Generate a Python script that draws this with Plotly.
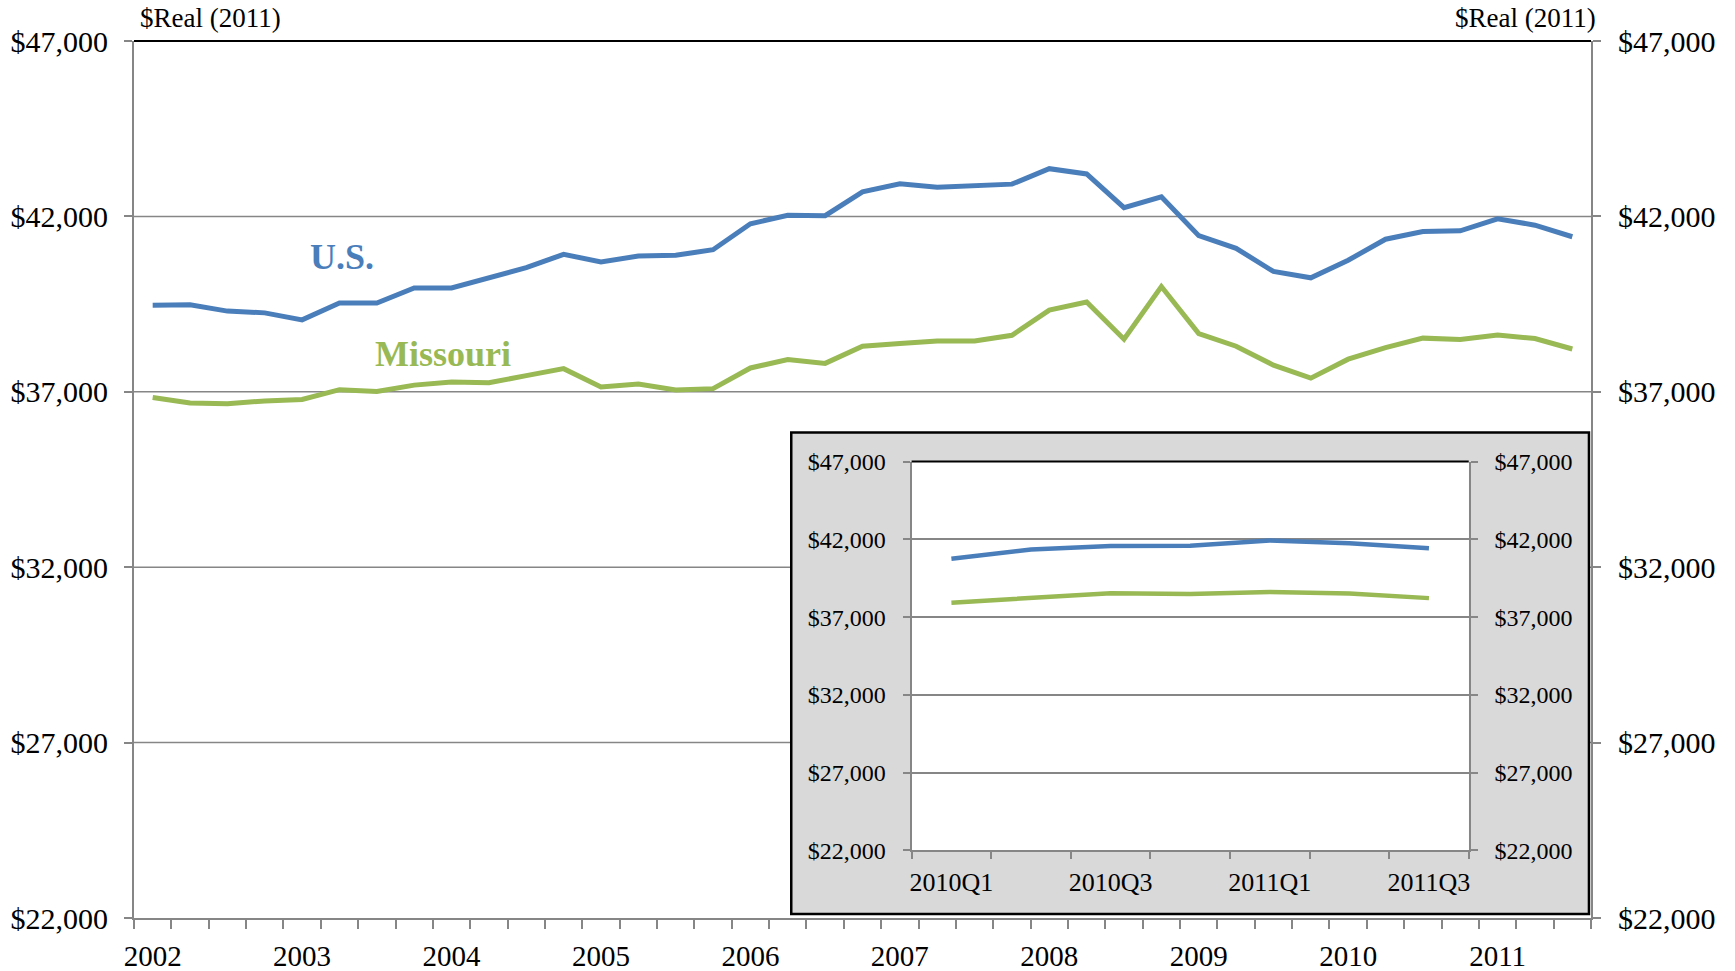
import plotly.graph_objects as go

# ---------------- data ----------------
quarters = ["2002Q1","2002Q2","2002Q3","2002Q4","2003Q1","2003Q2","2003Q3","2003Q4",
            "2004Q1","2004Q2","2004Q3","2004Q4","2005Q1","2005Q2","2005Q3","2005Q4",
            "2006Q1","2006Q2","2006Q3","2006Q4","2007Q1","2007Q2","2007Q3","2007Q4",
            "2008Q1","2008Q2","2008Q3","2008Q4","2009Q1","2009Q2","2009Q3","2009Q4",
            "2010Q1","2010Q2","2010Q3","2010Q4","2011Q1","2011Q2","2011Q3"]
us = [39470, 39480, 39300, 39250, 39050, 39530, 39530, 39960,
      39960, 40260, 40540, 40920, 40700, 40870, 40890, 41050,
      41790, 42030, 42020, 42700, 42930, 42830, 42870, 42920,
      43360, 43210, 42250, 42560, 41450, 41090, 40430, 40250,
      40750, 41350, 41570, 41590, 41930, 41750, 41420]
missouri = [36840, 36680, 36660, 36740, 36780, 37060, 37010, 37190,
            37280, 37260, 37460, 37660, 37140, 37220, 37050, 37090,
            37680, 37920, 37810, 38300, 38380, 38450, 38450, 38610,
            39330, 39560, 38500, 40000, 38660, 38300, 37760, 37390,
            37930, 38260, 38530, 38490, 38620, 38520, 38220]
year_labels = ["2002","2003","2004","2005","2006","2007","2008","2009","2010","2011"]
inset_start = "2010Q1"
inset_labels = ["2010Q1","2010Q3","2011Q1","2011Q3"]
y_ticks = [22000, 27000, 32000, 37000, 42000, 47000]
unit_label = "$Real (2011)"

# ---------------- derived ----------------
x_main = list(range(len(quarters)))
year_pos = [quarters.index(y + "Q1") for y in year_labels]
i0 = quarters.index(inset_start)
inset_q = quarters[i0:]
x_in = list(range(len(inset_q)))
us_in = us[i0:]
mo_in = missouri[i0:]
inset_pos = [inset_q.index(q) for q in inset_labels]

BLUE = "#4A7EBB"
GREEN = "#98B954"
GRAY = "#868686"
FONT = "Liberation Serif"

W, H = 1735, 971
ML, MR, MT, MB = 134, 144, 41, 53

fig = go.Figure()
fig.add_trace(go.Scatter(x=x_main, y=us, mode="lines", line=dict(color=BLUE, width=5),
                         showlegend=False, hoverinfo="skip"))
fig.add_trace(go.Scatter(x=x_main, y=missouri, mode="lines", line=dict(color=GREEN, width=5),
                         showlegend=False, hoverinfo="skip"))
fig.add_trace(go.Scatter(x=x_main, y=us, yaxis="y2", mode="lines", opacity=0,
                         line=dict(width=0), showlegend=False, hoverinfo="skip"))
# inset
fig.add_trace(go.Scatter(x=x_in, y=us_in, xaxis="x3", yaxis="y3", mode="lines",
                         line=dict(color=BLUE, width=4.5), showlegend=False, hoverinfo="skip"))
fig.add_trace(go.Scatter(x=x_in, y=mo_in, xaxis="x3", yaxis="y3", mode="lines",
                         line=dict(color=GREEN, width=4.5), showlegend=False, hoverinfo="skip"))
fig.add_trace(go.Scatter(x=x_in, y=us_in, xaxis="x3", yaxis="y4", mode="lines", opacity=0,
                         line=dict(width=0), showlegend=False, hoverinfo="skip"))

yfmt = dict(range=[y_ticks[0], y_ticks[-1]], tickmode="array", tickvals=y_ticks,
            tickformat="$,d", showline=True, linecolor=GRAY, linewidth=2, automargin=False,
            ticks="outside", ticklen=8, tickwidth=1.5, tickcolor=GRAY, zeroline=False)

fig.update_layout(
    width=W, height=H,
    margin=dict(l=ML, r=MR, t=MT, b=MB, autoexpand=False),
    paper_bgcolor="white", plot_bgcolor="white",
    font=dict(family=FONT, color="black"),
    xaxis=dict(range=[-0.5, len(quarters) - 0.5], tickmode="array", tickvals=year_pos,
               ticktext=year_labels, ticks="outside", ticklen=9, tickcolor="rgba(0,0,0,0)",
               tickfont=dict(size=29), ticklabelstandoff=2, automargin=False,
               showline=True, linecolor=GRAY, linewidth=2, showgrid=False, zeroline=False,
               minor=dict(ticks="outside", ticklen=9, tickwidth=1.5, tickcolor=GRAY,
                          tickmode="linear", tick0=-0.5, dtick=1, showgrid=False)),
    yaxis=dict(**yfmt, side="left", showgrid=False,
               tickfont=dict(size=30), ticklabelstandoff=10),
    yaxis2=dict(**yfmt, overlaying="y", side="right", anchor="x", showgrid=False,
                tickfont=dict(size=30), ticklabelstandoff=11),
    xaxis3=dict(domain=[0.5337, 0.9161], anchor="y3", range=[-0.5, len(inset_q) - 0.5],
                tickmode="array", tickvals=inset_pos, ticktext=inset_labels,
                ticks="outside", ticklen=7, tickcolor="rgba(0,0,0,0)",
                tickfont=dict(size=26), ticklabelstandoff=0, automargin=False,
                showline=True, linecolor=GRAY, linewidth=2, showgrid=False, zeroline=False,
                minor=dict(ticks="outside", ticklen=7, tickwidth=1.5, tickcolor=GRAY,
                           tickmode="linear", tick0=-0.5, dtick=1, showgrid=False)),
    yaxis3=dict(**{**yfmt, "ticklen": 7}, domain=[0.0770, 0.5205], anchor="x3", side="left",
                showgrid=True, gridcolor=GRAY, gridwidth=1.5,
                tickfont=dict(size=24), ticklabelstandoff=12),
    yaxis4=dict(**{**yfmt, "ticklen": 7}, overlaying="y3", anchor="x3", side="right",
                showgrid=False, tickfont=dict(size=24), ticklabelstandoff=12),
)

# main gridlines drawn as background shapes so the inset panel can cover them
for v in y_ticks[1:-1]:
    fig.add_shape(type="line", xref="x domain", yref="y", x0=0, x1=1, y0=v, y1=v,
                  line=dict(color=GRAY, width=1.5), layer="below")
# inset panel: grey frame + white plot area (below inset content)
fig.add_shape(type="rect", xref="x domain", yref="y domain", x0=0.4511, x1=0.9986,
              y0=0.0046, y1=0.5535, fillcolor="#D9D9D9", line=dict(color="black", width=2.5),
              layer="below")
fig.add_shape(type="rect", xref="x domain", yref="y domain", x0=0.5337, x1=0.9161,
              y0=0.0770, y1=0.5205, fillcolor="white", line=dict(width=0), layer="below")
# black top borders
fig.add_shape(type="line", xref="x domain", yref="y domain", x0=0, x1=1, y0=1, y1=1,
              line=dict(color="black", width=2), layer="above")
fig.add_shape(type="line", xref="x3 domain", yref="y3 domain", x0=0, x1=1, y0=1, y1=1,
              line=dict(color="black", width=2), layer="above")

# series labels
fig.add_annotation(x=5.07, y=40843, xref="x", yref="y", text="<b>U.S.</b>", showarrow=False,
                   font=dict(size=36, color=BLUE, family=FONT), xanchor="center", yanchor="middle")
fig.add_annotation(x=7.77, y=38077, xref="x", yref="y", text="<b>Missouri</b>", showarrow=False,
                   font=dict(size=36, color=GREEN, family=FONT), xanchor="center", yanchor="middle")
# unit labels (pixel positions converted to paper coordinates)
pw, ph = W - ML - MR, H - MT - MB
fig.add_annotation(x=(138 - ML) / pw, y=(H - 18 - MB) / ph, xref="paper", yref="paper",
                   text=unit_label, showarrow=False, font=dict(size=27),
                   xanchor="left", yanchor="middle")
fig.add_annotation(x=(1598 - ML) / pw, y=(H - 18 - MB) / ph, xref="paper", yref="paper",
                   text=unit_label, showarrow=False, font=dict(size=27),
                   xanchor="right", yanchor="middle")

fig.write_html("out.html", config={"displayModeBar": False},
               post_script="document.body.style.margin='0';")
